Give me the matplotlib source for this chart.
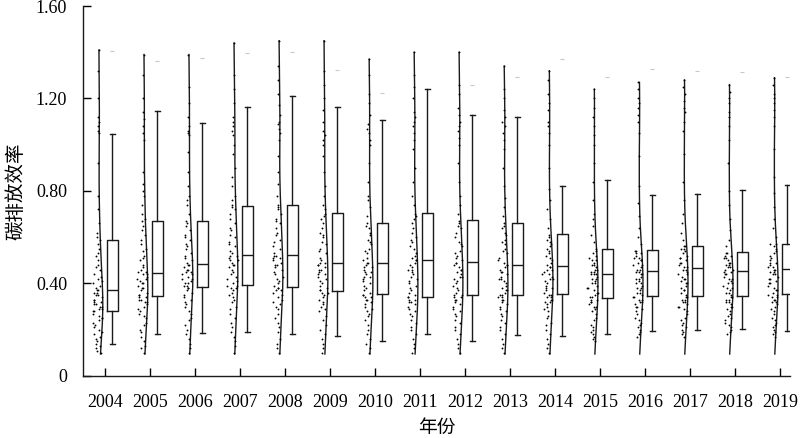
import matplotlib.pyplot as plt
import numpy as np

plt.rcParams['font.family'] = ['Liberation Serif', 'Noto Sans CJK SC']

years = ['2004', '2005', '2006', '2007', '2008', '2009', '2010', '2011',
         '2012', '2013', '2014', '2015', '2016', '2017', '2018', '2019']

# 箱线图统计量
whis_low = [0.137, 0.180, 0.185, 0.192, 0.182, 0.174, 0.153, 0.183,
            0.153, 0.177, 0.174, 0.180, 0.195, 0.199, 0.203, 0.196]
q1 = [0.282, 0.345, 0.385, 0.394, 0.385, 0.369, 0.355, 0.343,
      0.350, 0.349, 0.355, 0.337, 0.346, 0.347, 0.347, 0.356]
median = [0.373, 0.447, 0.483, 0.522, 0.522, 0.490, 0.487, 0.502,
          0.492, 0.479, 0.474, 0.441, 0.455, 0.467, 0.455, 0.461]
q3 = [0.589, 0.669, 0.672, 0.737, 0.739, 0.705, 0.660, 0.703,
      0.673, 0.663, 0.614, 0.551, 0.545, 0.562, 0.535, 0.571]
whis_high = [1.045, 1.146, 1.093, 1.165, 1.211, 1.162, 1.106, 1.241,
             1.127, 1.119, 0.823, 0.848, 0.784, 0.787, 0.804, 0.826]
flier = [1.407, 1.364, 1.374, 1.395, 1.403, 1.323, 1.224, None,
         1.257, 1.294, 1.371, 1.294, 1.326, 1.320, 1.313, 1.294]

curve_low = 0.095

# 各年份散点（估读）
points = [
    [0.10, 0.11, 0.12, 0.13, 0.14, 0.15, 0.16, 0.17, 0.18, 0.19, 0.20, 0.21,
     0.22, 0.23, 0.24, 0.25, 0.25, 0.26, 0.27, 0.28, 0.28, 0.29, 0.29, 0.30,
     0.30, 0.31, 0.31, 0.32, 0.32, 0.33, 0.33, 0.34, 0.35, 0.35, 0.36, 0.36,
     0.37, 0.37, 0.38, 0.39, 0.40, 0.41, 0.42, 0.43, 0.44, 0.46, 0.47, 0.48,
     0.50, 0.52, 0.53, 0.55, 0.57, 0.59, 0.60, 0.62, 0.66, 0.72, 0.78, 0.92,
     1.05, 1.06, 1.08, 1.10, 1.12, 1.20, 1.32, 1.41],
    [0.10, 0.12, 0.13, 0.15, 0.17, 0.19, 0.20, 0.22, 0.23, 0.25, 0.26, 0.27,
     0.28, 0.29, 0.30, 0.31, 0.32, 0.32, 0.33, 0.33, 0.34, 0.34, 0.35, 0.35,
     0.36, 0.37, 0.38, 0.38, 0.39, 0.40, 0.40, 0.41, 0.42, 0.42, 0.43, 0.44,
     0.44, 0.45, 0.45, 0.46, 0.47, 0.48, 0.50, 0.51, 0.52, 0.54, 0.55, 0.57,
     0.59, 0.61, 0.63, 0.65, 0.67, 0.68, 0.70, 0.74, 0.78, 0.80, 0.83, 0.88,
     1.02, 1.05, 1.08, 1.11, 1.14, 1.20, 1.30, 1.39],
    [0.10, 0.12, 0.14, 0.16, 0.18, 0.20, 0.22, 0.24, 0.25, 0.27, 0.28, 0.30,
     0.31, 0.32, 0.33, 0.34, 0.35, 0.36, 0.37, 0.38, 0.38, 0.39, 0.39, 0.40,
     0.40, 0.41, 0.42, 0.42, 0.43, 0.44, 0.44, 0.45, 0.45, 0.46, 0.46, 0.47,
     0.48, 0.48, 0.49, 0.50, 0.51, 0.52, 0.53, 0.55, 0.56, 0.57, 0.59, 0.60,
     0.61, 0.63, 0.65, 0.66, 0.67, 0.70, 0.74, 0.76, 0.78, 0.82, 0.88, 0.97,
     1.04, 1.05, 1.06, 1.08, 1.12, 1.18, 1.25, 1.39],
    [0.10, 0.13, 0.15, 0.17, 0.19, 0.21, 0.23, 0.25, 0.27, 0.29, 0.30, 0.32,
     0.33, 0.34, 0.35, 0.36, 0.37, 0.38, 0.38, 0.39, 0.39, 0.40, 0.41, 0.42,
     0.43, 0.44, 0.45, 0.46, 0.47, 0.48, 0.48, 0.49, 0.50, 0.50, 0.51, 0.52,
     0.52, 0.53, 0.54, 0.56, 0.57, 0.58, 0.60, 0.61, 0.63, 0.64, 0.66, 0.68,
     0.70, 0.72, 0.73, 0.74, 0.76, 0.78, 0.82, 0.86, 0.90, 0.96, 1.00, 1.04,
     1.06, 1.08, 1.10, 1.12, 1.18, 1.24, 1.30, 1.44],
    [0.10, 0.12, 0.14, 0.16, 0.19, 0.21, 0.23, 0.25, 0.27, 0.29, 0.30, 0.31,
     0.32, 0.33, 0.34, 0.35, 0.36, 0.37, 0.37, 0.38, 0.38, 0.39, 0.40, 0.41,
     0.42, 0.43, 0.44, 0.45, 0.46, 0.47, 0.48, 0.48, 0.49, 0.50, 0.51, 0.51,
     0.52, 0.52, 0.53, 0.55, 0.56, 0.58, 0.59, 0.61, 0.62, 0.64, 0.66, 0.67,
     0.68, 0.70, 0.72, 0.73, 0.74, 0.78, 0.83, 0.88, 0.95, 1.02, 1.05, 1.07,
     1.09, 1.10, 1.13, 1.17, 1.22, 1.28, 1.34, 1.45],
    [0.10, 0.12, 0.14, 0.16, 0.18, 0.20, 0.22, 0.24, 0.26, 0.28, 0.29, 0.30,
     0.31, 0.32, 0.33, 0.34, 0.35, 0.36, 0.36, 0.37, 0.37, 0.38, 0.39, 0.40,
     0.41, 0.42, 0.43, 0.44, 0.44, 0.45, 0.46, 0.46, 0.47, 0.48, 0.48, 0.49,
     0.49, 0.50, 0.51, 0.53, 0.54, 0.55, 0.57, 0.58, 0.60, 0.61, 0.62, 0.64,
     0.66, 0.68, 0.69, 0.70, 0.72, 0.74, 0.78, 0.82, 0.88, 0.95, 1.00, 1.02,
     1.04, 1.06, 1.10, 1.15, 1.20, 1.26, 1.32, 1.45],
    [0.10, 0.12, 0.14, 0.16, 0.18, 0.20, 0.22, 0.24, 0.26, 0.27, 0.28, 0.29,
     0.30, 0.31, 0.32, 0.33, 0.33, 0.34, 0.34, 0.35, 0.35, 0.36, 0.37, 0.38,
     0.39, 0.40, 0.41, 0.42, 0.43, 0.43, 0.44, 0.45, 0.45, 0.46, 0.47, 0.47,
     0.48, 0.49, 0.49, 0.50, 0.51, 0.53, 0.54, 0.55, 0.57, 0.58, 0.59, 0.61,
     0.62, 0.64, 0.65, 0.66, 0.69, 0.73, 0.76, 0.78, 0.84, 0.92, 1.00, 1.02,
     1.05, 1.07, 1.09, 1.13, 1.18, 1.22, 1.30, 1.37],
    [0.10, 0.12, 0.14, 0.16, 0.18, 0.20, 0.21, 0.23, 0.24, 0.26, 0.27, 0.28,
     0.29, 0.30, 0.31, 0.32, 0.32, 0.33, 0.33, 0.34, 0.34, 0.35, 0.36, 0.37,
     0.38, 0.39, 0.40, 0.41, 0.42, 0.43, 0.44, 0.45, 0.46, 0.46, 0.47, 0.48,
     0.49, 0.50, 0.50, 0.51, 0.52, 0.53, 0.55, 0.56, 0.58, 0.59, 0.60, 0.62,
     0.64, 0.66, 0.68, 0.69, 0.70, 0.74, 0.78, 0.84, 0.90, 0.98, 1.02, 1.05,
     1.08, 1.10, 1.12, 1.14, 1.20, 1.25, 1.30, 1.40],
    [0.10, 0.12, 0.14, 0.16, 0.18, 0.20, 0.21, 0.23, 0.24, 0.26, 0.27, 0.28,
     0.29, 0.30, 0.31, 0.32, 0.33, 0.33, 0.34, 0.34, 0.35, 0.35, 0.36, 0.37,
     0.38, 0.39, 0.40, 0.41, 0.42, 0.43, 0.43, 0.44, 0.45, 0.46, 0.46, 0.47,
     0.48, 0.49, 0.49, 0.50, 0.51, 0.52, 0.53, 0.54, 0.56, 0.57, 0.58, 0.60,
     0.62, 0.64, 0.65, 0.66, 0.67, 0.70, 0.74, 0.78, 0.84, 0.92, 1.00, 1.03,
     1.06, 1.08, 1.10, 1.13, 1.16, 1.22, 1.26, 1.40],
    [0.10, 0.12, 0.14, 0.16, 0.18, 0.20, 0.21, 0.23, 0.24, 0.26, 0.27, 0.28,
     0.29, 0.30, 0.31, 0.32, 0.33, 0.33, 0.34, 0.34, 0.35, 0.35, 0.36, 0.37,
     0.37, 0.38, 0.39, 0.40, 0.41, 0.42, 0.42, 0.43, 0.44, 0.45, 0.45, 0.46,
     0.47, 0.48, 0.48, 0.49, 0.50, 0.51, 0.53, 0.54, 0.55, 0.57, 0.58, 0.59,
     0.61, 0.62, 0.64, 0.65, 0.66, 0.69, 0.73, 0.77, 0.82, 0.90, 0.98, 1.02,
     1.05, 1.08, 1.10, 1.12, 1.15, 1.20, 1.24, 1.34],
    [0.10, 0.12, 0.14, 0.16, 0.18, 0.20, 0.22, 0.23, 0.25, 0.26, 0.28, 0.29,
     0.30, 0.31, 0.32, 0.32, 0.33, 0.33, 0.34, 0.34, 0.35, 0.35, 0.36, 0.37,
     0.38, 0.38, 0.39, 0.40, 0.41, 0.42, 0.42, 0.43, 0.44, 0.44, 0.45, 0.46,
     0.46, 0.47, 0.47, 0.48, 0.49, 0.50, 0.51, 0.52, 0.53, 0.54, 0.55, 0.56,
     0.57, 0.58, 0.59, 0.60, 0.61, 0.64, 0.68, 0.72, 0.76, 0.81, 0.90, 1.00,
     1.05, 1.08, 1.10, 1.15, 1.18, 1.22, 1.28, 1.32],
    [0.15, 0.16, 0.17, 0.18, 0.19, 0.20, 0.21, 0.22, 0.24, 0.25, 0.27, 0.28,
     0.29, 0.30, 0.30, 0.31, 0.32, 0.32, 0.33, 0.33, 0.34, 0.34, 0.35, 0.36,
     0.36, 0.37, 0.38, 0.38, 0.39, 0.40, 0.40, 0.41, 0.42, 0.42, 0.43, 0.44,
     0.44, 0.44, 0.45, 0.45, 0.46, 0.46, 0.47, 0.48, 0.48, 0.49, 0.50, 0.50,
     0.51, 0.52, 0.53, 0.54, 0.55, 0.58, 0.61, 0.65, 0.68, 0.70, 0.76, 0.84,
     0.92, 1.00, 1.04, 1.08, 1.12, 1.16, 1.20, 1.24],
    [0.17, 0.18, 0.19, 0.20, 0.21, 0.22, 0.23, 0.24, 0.25, 0.27, 0.28, 0.29,
     0.30, 0.30, 0.31, 0.32, 0.32, 0.33, 0.33, 0.34, 0.34, 0.35, 0.36, 0.36,
     0.37, 0.38, 0.38, 0.39, 0.40, 0.40, 0.41, 0.42, 0.42, 0.43, 0.44, 0.44,
     0.45, 0.45, 0.46, 0.46, 0.47, 0.48, 0.48, 0.49, 0.50, 0.50, 0.51, 0.51,
     0.52, 0.53, 0.53, 0.54, 0.54, 0.57, 0.60, 0.64, 0.69, 0.75, 0.82, 0.95,
     1.05, 1.10, 1.13, 1.16, 1.18, 1.20, 1.24, 1.27],
    [0.17, 0.18, 0.19, 0.20, 0.21, 0.22, 0.23, 0.24, 0.25, 0.27, 0.28, 0.29,
     0.30, 0.30, 0.31, 0.32, 0.32, 0.33, 0.33, 0.34, 0.34, 0.35, 0.36, 0.37,
     0.37, 0.38, 0.39, 0.40, 0.40, 0.41, 0.42, 0.42, 0.43, 0.44, 0.44, 0.45,
     0.46, 0.46, 0.47, 0.47, 0.48, 0.49, 0.49, 0.50, 0.51, 0.51, 0.52, 0.53,
     0.54, 0.55, 0.55, 0.56, 0.56, 0.59, 0.62, 0.66, 0.70, 0.76, 0.84, 0.96,
     1.06, 1.10, 1.14, 1.16, 1.19, 1.22, 1.25, 1.28],
    [0.18, 0.19, 0.20, 0.21, 0.22, 0.23, 0.24, 0.25, 0.26, 0.27, 0.28, 0.29,
     0.30, 0.30, 0.31, 0.32, 0.32, 0.33, 0.33, 0.34, 0.34, 0.35, 0.36, 0.36,
     0.37, 0.38, 0.38, 0.39, 0.40, 0.40, 0.41, 0.42, 0.42, 0.43, 0.44, 0.44,
     0.45, 0.45, 0.46, 0.46, 0.47, 0.47, 0.48, 0.48, 0.49, 0.49, 0.50, 0.51,
     0.51, 0.52, 0.52, 0.53, 0.53, 0.56, 0.59, 0.63, 0.68, 0.74, 0.80, 0.92,
     1.02, 1.08, 1.12, 1.14, 1.18, 1.20, 1.23, 1.26],
    [0.17, 0.18, 0.19, 0.20, 0.21, 0.22, 0.23, 0.24, 0.25, 0.27, 0.28, 0.29,
     0.30, 0.31, 0.32, 0.32, 0.33, 0.33, 0.34, 0.34, 0.35, 0.35, 0.36, 0.37,
     0.37, 0.38, 0.39, 0.40, 0.40, 0.41, 0.42, 0.42, 0.43, 0.44, 0.44, 0.45,
     0.45, 0.46, 0.46, 0.47, 0.47, 0.48, 0.49, 0.49, 0.50, 0.51, 0.52, 0.53,
     0.54, 0.55, 0.56, 0.57, 0.57, 0.60, 0.64, 0.68, 0.73, 0.79, 0.86, 0.98,
     1.08, 1.12, 1.15, 1.18, 1.20, 1.22, 1.26, 1.29],
]

fig = plt.figure(figsize=(8, 4.38), dpi=100)
ax = fig.add_axes([0.104, 0.1416, 0.884, 0.8447])

pos = np.arange(len(years))
box_shift = 0.155
curve_shift = -0.145


def kde(vals, grid, bw=0.11):
    vals = np.asarray(vals)
    d = np.exp(-0.5 * ((grid[:, None] - vals[None, :]) / bw) ** 2).sum(axis=1)
    return d


for i, vals in enumerate(points):
    vals = np.array(vals)
    grid = np.linspace(curve_low, vals.max(), 200)
    dens = kde(vals, grid)
    dmax = dens.max()
    cx = pos[i] + curve_shift + 0.09 * dens / dmax
    ax.plot(cx, grid, color='#1a1a1a', lw=1.0, zorder=2)

    # 抖动用确定性的无理数序列，不用随机数
    k = np.arange(len(vals)) + 7 * i
    u = (k * 0.618034 + k * k * 0.141421) % 1.0
    d_pts = kde(vals, vals) / dmax
    px = pos[i] + curve_shift + 0.09 * d_pts - u * 0.24 * d_pts
    ax.scatter(px, vals, s=1.8, color='black', lw=0, zorder=3)

stats = []
for i in range(len(years)):
    stats.append({
        'whislo': whis_low[i], 'q1': q1[i], 'med': median[i],
        'q3': q3[i], 'whishi': whis_high[i],
        'fliers': [] if flier[i] is None else [flier[i]],
    })

ax.bxp(stats, positions=pos + box_shift, widths=0.24, capwidths=0.11,
       boxprops={'color': '#1a1a1a', 'linewidth': 1.0},
       whiskerprops={'color': '#1a1a1a', 'linewidth': 1.0},
       capprops={'color': '#1a1a1a', 'linewidth': 1.0},
       medianprops={'color': '#1a1a1a', 'linewidth': 1.0},
       flierprops={'marker': '_', 'markeredgecolor': '#c8c8c8',
                   'markersize': 3, 'markeredgewidth': 0.8},
       manage_ticks=False)

ax.set_xlim(-0.49, 15.22)
ax.set_ylim(0, 1.6)
ax.set_xticks(pos)
ax.set_xticklabels(years)
ax.set_yticks([0, 0.4, 0.8, 1.2, 1.6])
ax.set_yticklabels(['0', '0.40', '0.80', '1.20', '1.60'])

ax.spines['top'].set_visible(False)
ax.spines['right'].set_visible(False)
for sp in ['left', 'bottom']:
    ax.spines[sp].set_linewidth(1.0)
    ax.spines[sp].set_color('#1a1a1a')

ax.tick_params(axis='x', direction='in', length=6, width=1.0, pad=13, labelsize=13)
ax.tick_params(axis='y', direction='in', length=6, width=1.0, pad=11.5, labelsize=13)

ax.set_xlabel('年份', fontsize=13.5, family=['Noto Sans CJK SC'], labelpad=4)
ax.set_ylabel('碳排放效率', fontsize=14, family=['Noto Sans CJK SC'], labelpad=7)

fig.savefig('out.png', dpi=100)
